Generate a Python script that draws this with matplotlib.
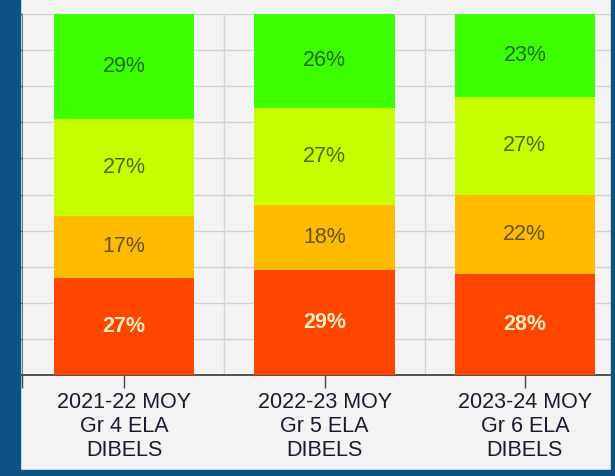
import numpy as np
import matplotlib.pyplot as plt
from matplotlib.patches import Rectangle

plt.rcParams['font.family'] = ['Liberation Sans', 'DejaVu Sans']

categories = ['2021-22 MOY\nGr 4 ELA\nDIBELS',
              '2022-23 MOY\nGr 5 ELA\nDIBELS',
              '2023-24 MOY\nGr 6 ELA\nDIBELS']

# stacked from bottom to top
red_vals = [27, 29, 28]
orange_vals = [17, 18, 22]
yellowgreen_vals = [27, 27, 27]
green_vals = [29, 26, 23]

series = [red_vals, orange_vals, yellowgreen_vals, green_vals]
fills = ['#ff4500', '#ffbb00', '#c8ff00', '#3dff00']
text_cols = ['#ffeabb', '#6b5000', '#4f6a00', '#1e6e0a']
weights = ['bold', 'normal', 'normal', 'normal']

fig = plt.figure(figsize=(6.15, 4.76), dpi=100)
fig.patch.set_facecolor('#f3f3f3')

# axes in figure pixels: left 22, right 611, bottom 375, top 14
W, H = 615, 476
ax = fig.add_axes([22 / W, (H - 375) / H, (611 - 22) / W, (375 - 14) / H])
ax.set_facecolor('#f3f3f3')

x = np.arange(len(categories))
bottom = np.zeros(len(categories))
for vals, fc, tc, fw in zip(series, fills, text_cols, weights):
    vals = np.array(vals)
    ax.bar(x, vals, width=0.7, bottom=bottom, color=fc, zorder=3)
    for xi, b, v in zip(x, bottom, vals):
        ax.text(xi, b + v / 2, f'{v}%', ha='center', va='center',
                fontsize=15.5, color=tc, fontweight=fw, zorder=4)
    bottom += vals

ax.set_xlim(-0.51, 2.43)
ax.set_ylim(0, 100)

ax.set_yticks(np.arange(0, 101, 10))
ax.set_yticklabels([])
ax.set_xticks(x)
ax.set_xticklabels(categories, fontsize=15.5, color='#1a1a2a')
ax.set_xticks([-0.51], minor=True)
ax.tick_params(axis='x', which='major', length=9, width=1, color='#444444', pad=3)
ax.tick_params(axis='x', which='minor', length=9, width=1, color='#444444')
ax.tick_params(axis='y', length=3, width=1, color='#555555')

ax.grid(axis='y', which='major', color='#d2d2d2', linewidth=1, zorder=0)
ax.grid(axis='x', which='major', visible=False)
for gx in [0.5, 1.5]:
    ax.axvline(gx, color='#d2d2d2', linewidth=1, zorder=0)

for s in ['top', 'right']:
    ax.spines[s].set_visible(False)
ax.spines['left'].set_color('#777777')
ax.spines['bottom'].set_color('#444444')
ax.spines['bottom'].set_linewidth(1.3)

# dark blue frame on left, right and bottom
frame = '#0b5384'
fig.patches.append(Rectangle((0, 0), 20 / W, 1, transform=fig.transFigure,
                             color=frame, zorder=10))
fig.patches.append(Rectangle((611 / W, 0), 4 / W, 1, transform=fig.transFigure,
                             color=frame, zorder=10))
fig.patches.append(Rectangle((0, 0), 1, 6 / H, transform=fig.transFigure,
                             color=frame, zorder=10))

fig.savefig('out.png', dpi=100, facecolor=fig.get_facecolor())
